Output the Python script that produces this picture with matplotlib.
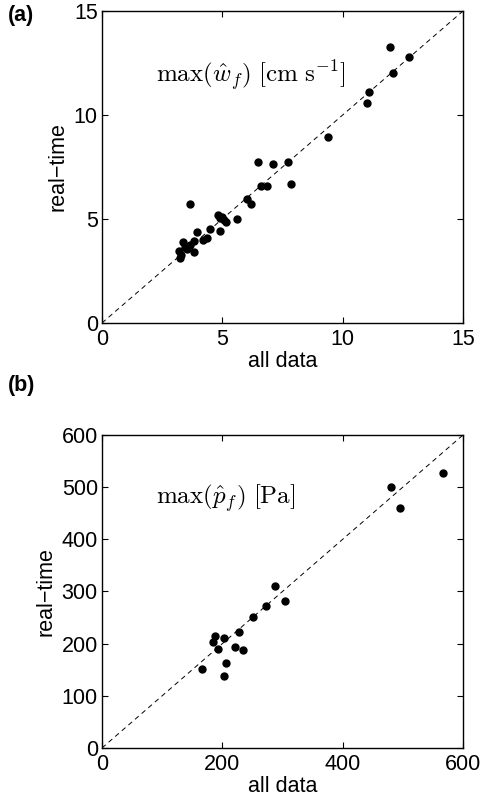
import matplotlib
matplotlib.use("Agg")
import matplotlib.pyplot as plt

plt.rcParams['font.family'] = ['Liberation Sans', 'DejaVu Sans']
plt.rcParams['mathtext.fontset'] = 'cm'

# (a) max(w_f) [cm/s]
w_all = [11.97, 12.75, 12.08, 11.09, 10.99, 9.39, 6.48, 7.09, 7.71, 7.84,
         6.62, 6.84, 6.04, 6.21, 3.65, 5.59, 4.84, 5.09, 5.14, 4.92,
         4.47, 4.37, 3.95, 4.18, 3.82, 3.35, 3.66, 3.82, 3.18, 3.29,
         3.25, 3.43, 3.54, 5.00, 4.90]
w_rt = [13.28, 12.77, 12.03, 11.10, 10.59, 8.95, 7.72, 7.64, 7.72, 6.67,
        6.59, 6.59, 5.95, 5.71, 5.71, 5.02, 5.18, 4.94, 4.86, 4.40,
        4.52, 4.09, 4.35, 4.01, 3.95, 3.87, 3.74, 3.39, 3.47, 3.29,
        3.10, 3.66, 3.58, 5.10, 5.05]

# (b) max(p_f) [Pa]
p_all = [567, 479.5, 494.5, 287.6, 303.6, 272.7, 251, 228, 188.6, 202.4,
         184.7, 193, 221, 235, 206, 165.4, 202.4]
p_rt = [528, 500, 460, 311, 281, 271.6, 252, 223, 215, 210,
        204, 190, 193, 188.5, 163.6, 151.4, 137.4]

FS = 15.5


def style(ax, lim, ticks):
    ax.plot([0, lim], [0, lim], 'k--', lw=0.7, dashes=(5, 4))
    ax.set_xlim(0, lim)
    ax.set_ylim(0, lim)
    ax.set_xticks(ticks)
    ax.set_yticks(ticks)
    ax.tick_params(direction='in', top=True, right=True, length=4,
                   width=0.8, labelsize=FS)
    ax.tick_params(axis='x', pad=4)
    ax.tick_params(axis='y', pad=3)
    for s in ax.spines.values():
        s.set_linewidth(1.0)
    ax.set_xlabel('all data', fontsize=FS, labelpad=1)
    ax.set_ylabel('real\u2212time', fontsize=FS, labelpad=4)


fig = plt.figure(figsize=(4.84, 8.01), dpi=100)

ax1 = fig.add_axes([0.2107, 0.5968, 0.746, 0.3895])
ax1.plot(w_all, w_rt, 'ko', ms=5, mec='k')
style(ax1, 15, [0, 5, 10, 15])
ax1.text(2.24, 11.9, r'$\max(\hat{w}_f)\ [\mathrm{cm\ s}^{-1}]$',
         fontsize=18, va='center', ha='left')
fig.text(0.017, 0.981, '(a)', fontsize=FS, fontweight='bold', va='center')

ax2 = fig.add_axes([0.2107, 0.0662, 0.746, 0.3908])
ax2.plot(p_all, p_rt, 'ko', ms=5, mec='k')
style(ax2, 600, [0, 200, 400, 600])
ax2.set_yticks([0, 100, 200, 300, 400, 500, 600])
ax2.text(90, 479, r'$\max(\hat{p}_f)\ [\mathrm{Pa}]$',
         fontsize=18, va='center', ha='left')
fig.text(0.017, 0.519, '(b)', fontsize=FS, fontweight='bold', va='center')

fig.savefig('out.png', dpi=100)
